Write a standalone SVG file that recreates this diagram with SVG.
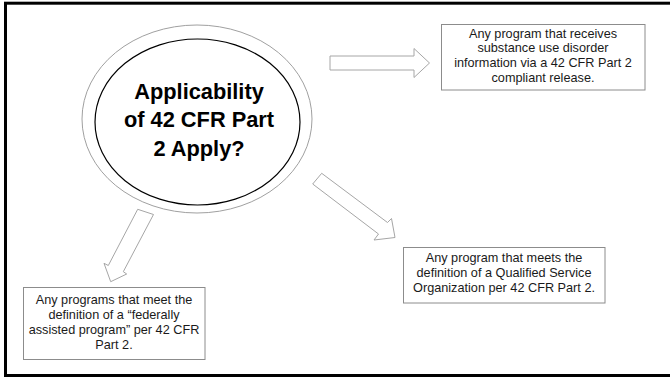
<svg xmlns="http://www.w3.org/2000/svg" width="670" height="378" viewBox="0 0 670 378">
<style>
.box{fill:#fff;stroke:#8c8c8c;stroke-width:1}
.arrow{fill:#fff;stroke:#a6a6a6;stroke-width:1;stroke-linejoin:miter}
.t{font-family:"Liberation Sans",Arial,sans-serif;font-size:12.7px;fill:#1a1a1a;text-anchor:middle}
.title{font-family:"Liberation Sans",Arial,sans-serif;font-size:21.8px;font-weight:bold;fill:#000;text-anchor:middle}
</style>
<rect x="0" y="0" width="670" height="378" fill="#fff"/>
<rect x="5.5" y="3.2" width="667" height="372.3" fill="none" stroke="#000" stroke-width="3"/>
<g id="center">
<ellipse cx="197" cy="119" rx="115" ry="94" fill="#fff" stroke="#a0a0a0" stroke-width="1"/>
<ellipse cx="197.5" cy="122" rx="102.5" ry="83" fill="#fff" stroke="#000" stroke-width="1.2"/>
<text class="title" x="199" y="98.5">Applicability</text>
<text class="title" x="199" y="127">of 42 CFR Part</text>
<text class="title" x="199" y="155.5">2 Apply?</text>
</g>
<g id="connectors">
<polygon class="arrow" points="330,56 414,56 414,48.5 429.5,63 414,77.5 414,70 330,70"/>
<polygon class="arrow" points="321.7,173.3 387.5,222.5 391.5,218.5 395,237.5 374,240 378.5,234 312.7,184"/>
<polygon class="arrow" points="137.7,209.3 108.3,265.5 104,263.3 110.7,281.7 126.7,274 123.3,271.7 153.5,214.5"/>
</g>
<g id="box-release">
<rect class="box" x="441.5" y="24.5" width="203.5" height="65.5"/>
<text class="t" x="543" y="37.5">Any program that receives</text>
<text class="t" x="543" y="52.3">substance use disorder</text>
<text class="t" x="543" y="67">information via a 42 CFR Part 2</text>
<text class="t" x="543" y="81.8">compliant release.</text>
</g>
<g id="box-qso">
<rect class="box" x="403.5" y="247.5" width="201.5" height="55.5"/>
<text class="t" x="504" y="261.8">Any program that meets the</text>
<text class="t" x="504" y="276.7">definition of a Qualified Service</text>
<text class="t" x="504" y="291.6">Organization per 42 CFR Part 2.</text>
</g>
<g id="box-federal">
<rect class="box" x="23.5" y="287.5" width="181.5" height="72"/>
<text class="t" x="114" y="304">Any programs that meet the</text>
<text class="t" x="114" y="319">definition of a “federally</text>
<text class="t" x="114" y="334">assisted program” per 42 CFR</text>
<text class="t" x="114" y="349">Part 2.</text>
</g>
</svg>
